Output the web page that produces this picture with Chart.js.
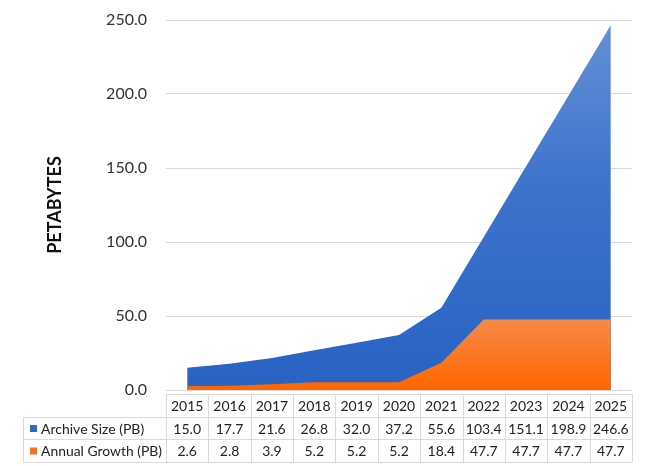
<!DOCTYPE html>
<html>
<head>
<meta charset="utf-8">
<script src="https://cdn.jsdelivr.net/npm/chart.js@4.4.1/dist/chart.umd.min.js"></script>
<style>
  html, body { margin: 0; padding: 0; background: #fff; }
  #wrap { width: 645px; height: 466px; }
</style>
</head>
<body>
<div id="wrap"><canvas id="chart"></canvas></div>
<script>
const years = ['2015', '2016', '2017', '2018', '2019', '2020', '2021', '2022', '2023', '2024', '2025'];
const archiveSize = [15.0, 17.7, 21.6, 26.8, 32.0, 37.2, 55.6, 103.4, 151.1, 198.9, 246.6];
const annualGrowth = [2.6, 2.8, 3.9, 5.2, 5.2, 5.2, 18.4, 47.7, 47.7, 47.7, 47.7];
const seriesNames = ['Archive Size (PB)', 'Annual Growth (PB)'];
const yTicks = [0, 50, 100, 150, 200, 250];

const FONT = 'Lato, "Open Sans", sans-serif';
const BLUE = '#2f68c8';
const ORANGE = '#f5731f';

// blue fill, lighter towards the top
function blueFill(ctx) {
  const { chart } = ctx;
  const a = chart.chartArea;
  if (!a) return BLUE;
  const g = chart.ctx.createLinearGradient(0, a.top, 0, a.bottom);
  g.addColorStop(0, '#6790d6');
  g.addColorStop(0.45, '#3c73cc');
  g.addColorStop(1, '#2862c3');
  return g;
}

function orangeFill(ctx) {
  const { chart } = ctx;
  const y = chart.scales.y;
  if (!chart.chartArea || !y) return ORANGE;
  const g = chart.ctx.createLinearGradient(0, y.getPixelForValue(48), 0, y.getPixelForValue(0));
  g.addColorStop(0, '#f68a48');
  g.addColorStop(1, '#ff6500');
  return g;
}

// data table under the plot
const dataTable = {
  id: 'dataTable',
  afterDraw(chart) {
    const { ctx } = chart;
    const x = chart.scales.x;
    const colW = x.getPixelForValue(1) - x.getPixelForValue(0);
    const left = 23;
    const colLeft = x.getPixelForValue(0) - colW / 2;
    const right = x.getPixelForValue(years.length - 1) + colW / 2;
    const rowsY = [394, 417, 439, 462];
    const rows = [archiveSize, annualGrowth];
    const colors = [BLUE, ORANGE];

    ctx.save();
    ctx.strokeStyle = '#dadada';
    ctx.lineWidth = 1;
    ctx.beginPath();
    // header row lines (only over year columns)
    ctx.moveTo(colLeft, rowsY[0] + 0.5);
    ctx.lineTo(right, rowsY[0] + 0.5);
    for (let r = 1; r < rowsY.length; r++) {
      ctx.moveTo(left, rowsY[r] + 0.5);
      ctx.lineTo(right, rowsY[r] + 0.5);
    }
    ctx.moveTo(left + 0.5, rowsY[1]);
    ctx.lineTo(left + 0.5, rowsY[3]);
    for (let i = 0; i <= years.length; i++) {
      const xx = Math.round(colLeft + i * colW) + 0.5;
      ctx.moveTo(xx, rowsY[0]);
      ctx.lineTo(xx, rowsY[3]);
    }
    ctx.stroke();

    ctx.fillStyle = '#222';
    ctx.font = '14px ' + FONT;
    ctx.textAlign = 'center';
    ctx.textBaseline = 'middle';
    years.forEach((yr, i) => {
      ctx.fillText(yr, x.getPixelForValue(i), (rowsY[0] + rowsY[1]) / 2 + 1);
    });
    rows.forEach((vals, r) => {
      const cy = (rowsY[r + 1] + rowsY[r + 2]) / 2 + 1;
      vals.forEach((v, i) => {
        ctx.fillText(v.toFixed(1), x.getPixelForValue(i), cy);
      });
      ctx.fillStyle = colors[r];
      ctx.fillRect(30, cy - 4, 7, 7);
      ctx.fillStyle = '#222';
      ctx.textAlign = 'left';
      ctx.fillText(seriesNames[r], 41, cy, colLeft - 45);
      ctx.textAlign = 'center';
    });
    ctx.restore();
  }
};

new Chart(document.getElementById('chart'), {
  type: 'line',
  data: {
    labels: years,
    datasets: [
      {
        label: seriesNames[0],
        data: archiveSize,
        backgroundColor: blueFill,
        borderWidth: 0,
        pointRadius: 0,
        fill: 'origin',
        order: 2,
      },
      {
        label: seriesNames[1],
        data: annualGrowth,
        backgroundColor: orangeFill,
        borderWidth: 0,
        pointRadius: 0,
        fill: 'origin',
        order: 1,
      },
    ],
  },
  options: {
    responsive: true,
    maintainAspectRatio: false,
    animation: false,
    layout: { padding: { left: 0, right: 13, top: 20, bottom: 76 } },
    plugins: {
      legend: { display: false },
      tooltip: { enabled: false },
    },
    scales: {
      x: { type: 'category', display: false, offset: true },
      y: {
        min: 0,
        max: 250,
        afterBuildTicks: (s) => { s.ticks = yTicks.map(v => ({ value: v })); },
        afterFit: (s) => { s.width = 166; s.paddingTop = 0; s.paddingBottom = 0; },
        border: { display: false },
        grid: { color: '#d9d9d9', drawTicks: false },
        ticks: {
          padding: 19,
          color: '#333',
          font: { family: FONT, size: 16 },
          callback: (v) => Number(v).toFixed(1),
        },
        title: {
          display: true,
          text: 'PETABYTES',
          color: '#111',
          font: { family: FONT, size: 18, weight: 'bold' },
          padding: { top: 44, bottom: 0 },
        },
      },
    },
  },
  plugins: [dataTable],
});
</script>
</body>
</html>
